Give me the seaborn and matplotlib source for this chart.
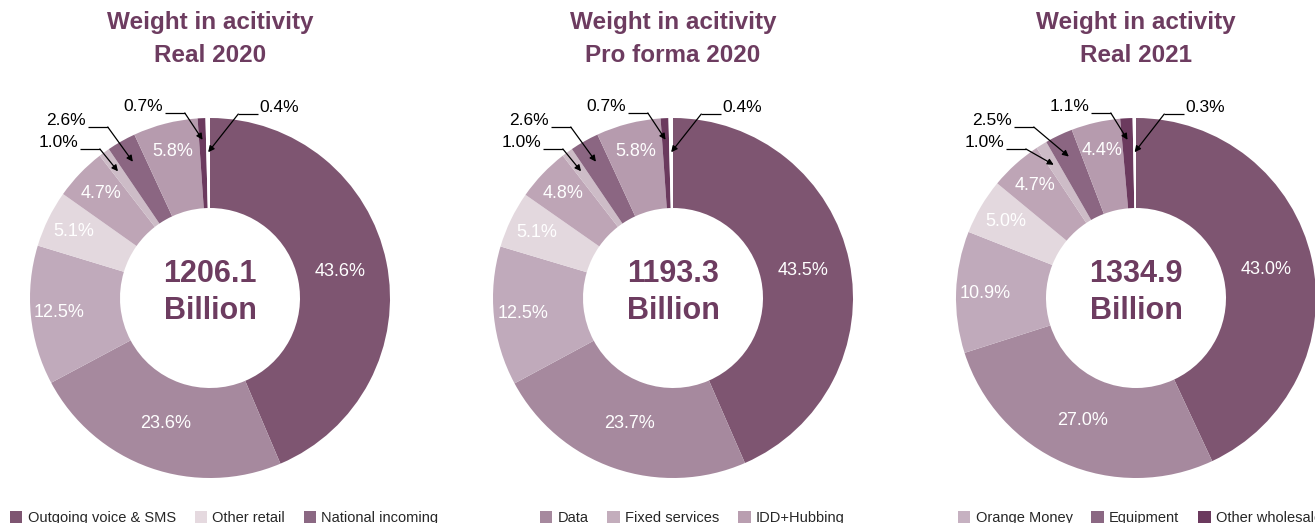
import math
import matplotlib
matplotlib.use("Agg")
import matplotlib.pyplot as plt
from matplotlib.patches import Patch
import seaborn as sns

sns.set_theme(style="white")
plt.rcParams["font.family"] = ["Liberation Sans", "DejaVu Sans"]

# Segments, clockwise from 12 o'clock
segments = ["Outgoing voice & SMS", "Data", "Fixed services", "Other retail",
            "IDD+Hubbing", "Orange Money", "National incoming", "Equipment",
            "Other wholesale", "Other"]
segment_colors = ["#7e5571", "#a6899e", "#c0aabb", "#e3d8de", "#bea5b6",
                  "#cdbcc7", "#8b6682", "#b69bae", "#6b3a5e", "#ffffff"]

titles = ["Weight in acitivity\nReal 2020",
          "Weight in acitivity\nPro forma 2020",
          "Weight in activity\nReal 2021"]
totals = ["1206.1", "1193.3", "1334.9"]

real_2020 = [43.6, 23.6, 12.5, 5.1, 4.7, 1.0, 2.6, 5.8, 0.7, 0.4]
pro_forma_2020 = [43.5, 23.7, 12.5, 5.1, 4.8, 1.0, 2.6, 5.8, 0.7, 0.4]
real_2021 = [43.0, 27.0, 10.9, 5.0, 4.7, 1.0, 2.5, 4.4, 1.1, 0.3]
panels = [real_2020, pro_forma_2020, real_2021]

# Legend rows shown under each donut
legend_groups = [
    ["Outgoing voice & SMS", "Other retail", "National incoming"],
    ["Data", "Fixed services", "IDD+Hubbing"],
    ["Orange Money", "Equipment", "Other wholesale"],
]
legend_colors = {
    "Outgoing voice & SMS": "#7e5571", "Other retail": "#e5d9df",
    "National incoming": "#8b6883", "Data": "#a6899e",
    "Fixed services": "#c3adbc", "IDD+Hubbing": "#b99eb0",
    "Orange Money": "#c6b1c1", "Equipment": "#8b6883",
    "Other wholesale": "#6b3a5e",
}

ACCENT = "#6d3c60"
W, H = 1315, 523
fig = plt.figure(figsize=(W / 100, H / 100), dpi=100)
fig.patch.set_facecolor("white")

centers_x = [210, 673, 1136]
center_y = 298
R = 180

# Callout layout for the thin slices: (start x, y, tip radius, side)
callouts = {
    5: (-0.722, 0.828, 0.87, "left"),
    6: (-0.678, 0.950, 0.87, "left"),
    8: (-0.250, 1.028, 0.88, "left"),
    9: (0.267, 1.022, 0.81, "right"),
}
legend_x = [10, 540, 958]

for k, (values, cx) in enumerate(zip(panels, centers_x)):
    ax = fig.add_axes([(cx - R) / W, (H - center_y - R) / H, 2 * R / W, 2 * R / H])
    wedges, _ = ax.pie(values, colors=segment_colors, startangle=90,
                       counterclock=False, radius=1,
                       wedgeprops=dict(width=0.5, linewidth=0))
    ax.set_xlim(-1, 1)
    ax.set_ylim(-1, 1)
    ax.set_aspect("equal")
    ax.axis("off")

    for i, (w, v) in enumerate(zip(wedges, values)):
        mid = math.radians((w.theta1 + w.theta2) / 2)
        label = f"{v:.1f}%"
        if i in callouts:
            sx, sy, tr, side = callouts[i]
            tip = (tr * math.cos(mid), tr * math.sin(mid))
            corner_x = sx + 0.11 if side == "left" else sx - 0.11
            ax.plot([sx, corner_x], [sy, sy], color="black", lw=0.9,
                    solid_capstyle="butt", clip_on=False)
            ax.annotate("", xy=tip, xytext=(corner_x, sy),
                        arrowprops=dict(arrowstyle="-|>", color="black",
                                        lw=0.9, mutation_scale=9,
                                        shrinkA=0, shrinkB=0),
                        annotation_clip=False)
            if side == "left":
                ax.text(sx - 0.01, sy + 0.035, label, ha="right", va="center",
                        fontsize=12.5, color="black")
            else:
                ax.text(sx + 0.01, sy + 0.035, label, ha="left", va="center",
                        fontsize=12.5, color="black")
        elif v >= 3:
            r = 0.74 if v > 20 else 0.84
            ax.text(r * math.cos(mid), r * math.sin(mid), label, ha="center",
                    va="center", fontsize=13, color="white")

    ax.text(0, 0.03, f"{totals[k]}\nBillion", ha="center", va="center",
            fontsize=22, fontweight="bold", color=ACCENT, linespacing=1.27)

    fig.text(cx / W, 1 - 39 / H, titles[k], ha="center", va="center",
             fontsize=17.5, fontweight="bold", color=ACCENT, linespacing=1.5)

    handles = [Patch(facecolor=legend_colors[n], edgecolor="none")
               for n in legend_groups[k]]
    fig.legend(handles, legend_groups[k], loc="center left",
               bbox_to_anchor=(legend_x[k] / W, 1 - 518 / H), ncol=3,
               frameon=False, fontsize=10.5, handlelength=0.85,
               handleheight=0.85, handletextpad=0.35, columnspacing=1.3,
               borderpad=0, borderaxespad=0)

fig.savefig("out.png", dpi=100, facecolor="white")
